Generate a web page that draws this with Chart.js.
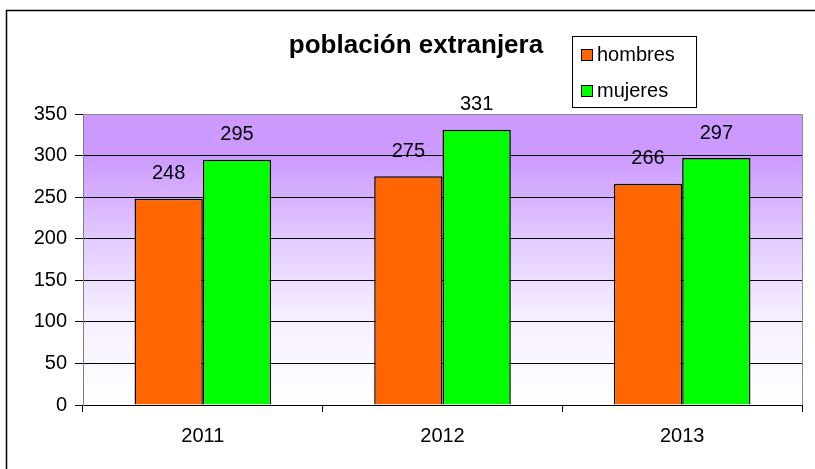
<!DOCTYPE html>
<html>
<head>
<meta charset="utf-8">
<title>población extranjera</title>
<script src="https://cdn.jsdelivr.net/npm/chart.js@4"></script>
<style>
  html, body { margin: 0; padding: 0; background: #fff; }
  canvas { display: block; }
</style>
</head>
<body>
<canvas id="chart" width="815" height="469"></canvas>
<script>
const years = ['2011', '2012', '2013']
const hombres = [248, 275, 266]
const mujeres = [295, 331, 297]
const seriesNames = ['hombres', 'mujeres']
const seriesColors = ['#ff6600', '#00ff00']
const titleText = 'población extranjera'
const yMin = 0
const yMax = 350
const yStep = 50

const FONT = '"Liberation Sans", Arial, sans-serif'

// fondo degradado, borde, título, leyenda y etiquetas
const excelLook = {
    id: 'excelLook',
    beforeDraw(chart) {
        const ctx = chart.ctx
        const a = chart.chartArea
        const g = ctx.createLinearGradient(0, a.top, 0, a.bottom)
        g.addColorStop(0, '#cc99ff')
        g.addColorStop(0.14, '#cc99ff')
        g.addColorStop(0.45, '#e4cdff')
        g.addColorStop(0.7, '#f6efff')
        g.addColorStop(1, '#ffffff')
        ctx.save()
        ctx.fillStyle = '#ffffff'
        ctx.fillRect(0, 0, chart.width, chart.height)
        // marco exterior
        ctx.strokeStyle = '#000'
        ctx.lineWidth = 1.5
        ctx.beginPath()
        ctx.moveTo(6.5, chart.height + 2)
        ctx.lineTo(6.5, 10.5)
        ctx.lineTo(chart.width + 2, 10.5)
        ctx.stroke()
        ctx.fillStyle = g
        ctx.fillRect(a.left, a.top, a.right - a.left, a.bottom - a.top)
        ctx.restore()
    },
    afterDraw(chart) {
        const ctx = chart.ctx
        const a = chart.chartArea
        ctx.save()
        // borde gris del área de trazado
        ctx.strokeStyle = '#8c8c8c'
        ctx.lineWidth = 1
        ctx.beginPath()
        ctx.moveTo(a.left, Math.round(a.top) + 0.5)
        ctx.lineTo(Math.round(a.right) + 0.5, Math.round(a.top) + 0.5)
        ctx.lineTo(Math.round(a.right) + 0.5, a.bottom)
        ctx.stroke()

        // etiquetas de datos
        ctx.fillStyle = '#000'
        ctx.font = '20px ' + FONT
        ctx.textAlign = 'center'
        ctx.textBaseline = 'middle'
        chart.data.datasets.forEach((ds, i) => {
            chart.getDatasetMeta(i).data.forEach((bar, j) => {
                ctx.fillText(String(ds.data[j]), bar.x, bar.y - 25)
            })
        })

        // título
        ctx.font = 'bold 26px ' + FONT
        ctx.fillText(titleText, 416, 46)

        // leyenda
        ctx.fillStyle = '#fff'
        ctx.fillRect(572.5, 36.5, 124, 71)
        ctx.strokeStyle = '#000'
        ctx.strokeRect(572.5, 36.5, 124, 71)
        ctx.font = '20px ' + FONT
        ctx.textAlign = 'left'
        chart.data.datasets.forEach((ds, i) => {
            const cy = 55 + i * 36
            ctx.fillStyle = ds.backgroundColor
            ctx.fillRect(581.5, cy - 5.5, 11, 11)
            ctx.strokeStyle = '#000'
            ctx.strokeRect(581.5, cy - 5.5, 11, 11)
            ctx.fillStyle = '#000'
            ctx.fillText(ds.label, 597, cy)
        })
        ctx.restore()
    }
}

const dataPlot = {
    labels: years,
    datasets: [{
        label: seriesNames[0],
        data: hombres,
        backgroundColor: seriesColors[0],
        borderColor: '#000',
        borderWidth: 1.5,
        categoryPercentage: 0.57,
        barPercentage: 1
    }, {
        label: seriesNames[1],
        data: mujeres,
        backgroundColor: seriesColors[1],
        borderColor: '#000',
        borderWidth: 1.5,
        categoryPercentage: 0.57,
        barPercentage: 1
    }]
}

new Chart(document.getElementById('chart').getContext('2d'), {
    type: 'bar',
    data: dataPlot,
    plugins: [excelLook],
    options: {
        responsive: false,
        animation: false,
        layout: { padding: { left: 0, right: 13, top: 114, bottom: 0 } },
        plugins: {
            legend: { display: false },
            title: { display: false },
            tooltip: { enabled: false }
        },
        scales: {
            x: {
                afterFit: axis => { axis.height = 64 },
                grid: { drawOnChartArea: false, offset: true, tickLength: 7, color: '#000' },
                border: { color: '#000' },
                ticks: { color: '#000', padding: 12, font: { family: FONT, size: 20 } }
            },
            y: {
                min: yMin,
                max: yMax,
                afterFit: axis => { axis.width = 83 },
                grid: { color: '#000', tickLength: 8 },
                border: { color: '#808080' },
                ticks: { stepSize: yStep, color: '#000', padding: 8, font: { family: FONT, size: 20 } }
            }
        }
    }
})
</script>
</body>
</html>
